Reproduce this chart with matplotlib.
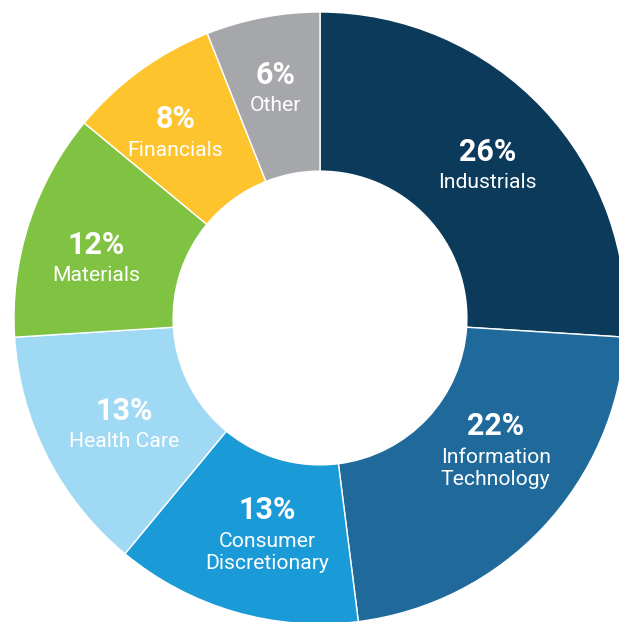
import numpy as np
import matplotlib.pyplot as plt

# sector weights, clockwise from 12 o'clock
sectors = ["Industrials", "Information\nTechnology", "Consumer\nDiscretionary",
           "Health Care", "Materials", "Financials", "Other"]
weights = [26, 22, 13, 13, 12, 8, 6]
colors = ["#0b3a5b", "#1f6a9b", "#1a9ad6", "#9fd9f3", "#80c242", "#fdc42e", "#a6a7ab"]

fig = plt.figure(figsize=(6.19, 6.22), dpi=100)
ax = fig.add_axes([0, 0, 1, 1])

wedges, _ = ax.pie(weights, colors=colors, startangle=90, counterclock=False,
                   radius=1.0,
                   wedgeprops=dict(width=0.52, edgecolor="white", linewidth=1))

# where each label block sits: radius and a small turn away from mid-angle
lab_r = [0.75, 0.69, 0.68, 0.72, 0.76, 0.78, 0.78]
turn = [0, 9.5, 1.5, 0.5, 2, 1.3, 0]

for i, w in enumerate(wedges):
    mid = np.radians((w.theta1 + w.theta2) / 2 + turn[i])
    x = lab_r[i] * np.cos(mid)
    y = lab_r[i] * np.sin(mid)
    ax.annotate(f"{weights[i]}%", xy=(x, y), xytext=(0, 0), textcoords="offset points",
                ha="center", va="baseline", color="white", fontsize=22,
                fontweight="bold", family="Roboto")
    # one annotation per line so every baseline is placed exactly
    for k, line in enumerate(sectors[i].split("\n")):
        ax.annotate(line, xy=(x, y), xytext=(0, -19.8 - 16.3 * k),
                    textcoords="offset points", ha="center", va="baseline",
                    color="white", fontsize=15.2, family="Roboto")

# centre of ring sits at (320, 318) px, outer radius 306 px
px = 306.0
ax.set_xlim(-320 / px, (619 - 320) / px)
ax.set_ylim(-(622 - 318) / px, 318 / px)
ax.set_aspect("auto")
ax.axis("off")

fig.savefig("out.png", dpi=100, facecolor="white")
